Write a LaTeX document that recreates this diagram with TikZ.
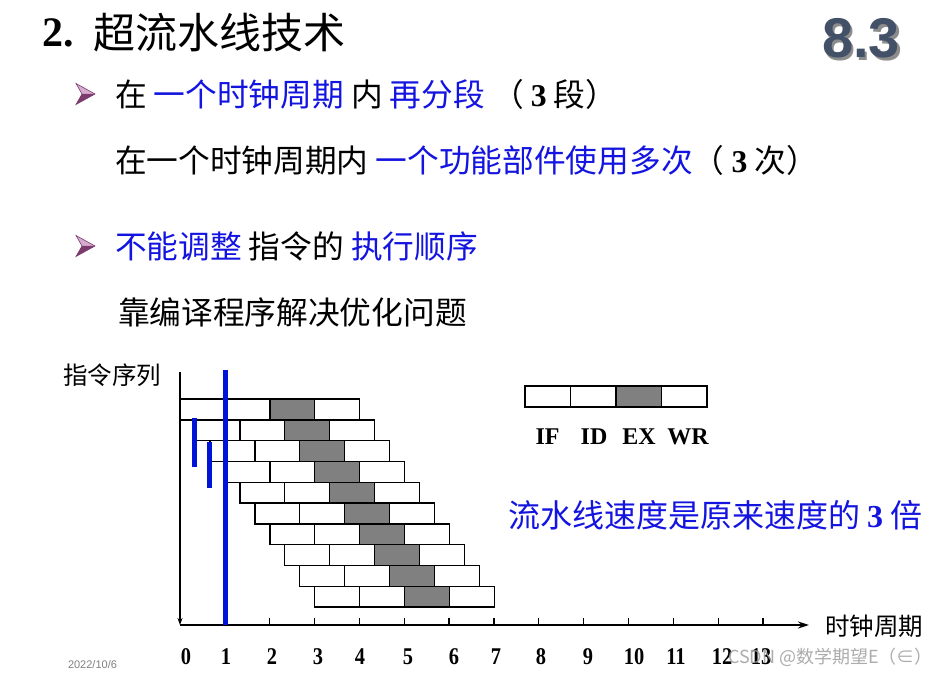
\documentclass[tikz,border=0pt]{standalone}
\usepackage{fontspec}
\usepackage{graphicx}
\usetikzlibrary{arrows.meta}
\setmainfont{Liberation Serif}
\newfontfamily\cjk{Noto Sans CJK SC}
\newfontfamily\lsans{Liberation Sans}
\definecolor{tblue}{RGB}{20,20,225}
\definecolor{boxgray}{RGB}{128,128,128}
\definecolor{bline}{RGB}{0,20,215}
\definecolor{numc}{RGB}{66,80,104}
\definecolor{mkLight}{RGB}{214,172,206}
\definecolor{mkDark}{RGB}{125,58,108}
\newcommand\fs[1]{\fontsize{#1}{#1}\selectfont}
\newcommand\bl[1]{\textcolor{tblue}{#1}}
\newcommand\tn[1]{{\rmfamily\bfseries #1}}
\tikzset{
  stagebox/.style={draw=black, line width=1.4pt, minimum width=44.9pt, minimum height=20.8pt, inner sep=0pt, outer sep=0pt, anchor=north west},
  legbox/.style={draw=black, line width=1.6pt, minimum width=45.5pt, minimum height=21pt, inner sep=0pt, outer sep=0pt, anchor=north west},
  txt/.style={inner sep=0pt, outer sep=0pt, anchor=west},
  blueline/.style={draw=bline, line width=5pt},
  axis/.style={draw=black, line width=1.5pt},
  tick/.style={draw=black, line width=1.3pt},
  marker/.style={line width=0.6pt, draw=mkDark}
}
\newcommand\bulletmark[2]{%
  \fill[mkLight] (#1,#2-10.5) -- (#1+19,#2) -- (#1+6,#2) -- cycle;
  \fill[mkDark] (#1,#2+10.5) -- (#1+19,#2) -- (#1+6,#2) -- cycle;
  \draw[marker] (#1,#2-10.5) -- (#1+19,#2) -- (#1,#2+10.5) -- (#1+6,#2) -- cycle;
}
\begin{document}
\begin{tikzpicture}[x=1pt,y=-1pt]
\useasboundingbox (0,0) rectangle (943,679);
\fill[white] (0,0) rectangle (943,679);

% title
\node[inner sep=0pt, anchor=base west] (t2) at (42,47) {\fs{42}\tn{2.}};
\node[txt] (title) at (93,33) {\fs{42}\cjk 超流水线技术};
% 8.3
\node[inner sep=0pt, anchor=base west, text=black!45] (secsh) at (824.5,60.5) {\fs{56}\lsans\bfseries 8.3};
\node[inner sep=0pt, anchor=base west, text=numc] (sec) at (822,58) {\fs{56}\lsans\bfseries 8.3};

% bullets
\bulletmark{76}{94}
\node[txt] (line1) at (115,94) {\fs{31.7}\cjk 在 \bl{一个时钟周期} 内 \bl{再分段} （ \tn{3} 段）};
\node[txt] (line2) at (115,160) {\fs{31.7}\cjk 在一个时钟周期内 \bl{一个功能部件使用多次}（ \tn{3} 次）};
\bulletmark{76}{246}
\node[txt] (line3) at (115,246) {\fs{31.7}\cjk \bl{不能调整} 指令的 \bl{执行顺序}};
\node[txt] (line4) at (118,312) {\fs{31.7}\cjk 靠编译程序解决优化问题};

% axes labels
\node[txt] (ylab) at (63,375) {\fs{24.5}\cjk 指令序列};
\node[txt] (xlab) at (825,626) {\fs{24.5}\cjk 时钟周期};

% pipeline blocks
\foreach \i in {0,...,9}{
  \foreach \j/\c in {0/white,1/white,2/boxgray,3/white}{
    \pgfmathsetmacro\xx{180+\i*14.967+\j*44.9}
    \pgfmathsetmacro\yy{399+\i*20.8}
    \node[stagebox, fill=\c] (b\i\j) at (\xx,\yy) {};
  }
}

% axes
\coordinate (O) at (180,625);
\coordinate (Ytop) at (180,372);
\coordinate (Xend) at (809,625);
\draw[axis, -{Stealth[length=7pt,width=5pt]}] (Ytop) -- (O);
\draw[axis, -{Stealth[length=11pt,width=7pt]}] (O) -- (Xend);
\foreach \k in {1,...,13}{
  \draw[tick] (180+\k*44.85,625) -- (180+\k*44.85,618);
}
\foreach \k/\xp in {0/186,1/226,2/272,3/318,4/360,5/408,6/454,7/496,8/541,9/588,10/634,11/676,12/722,13/761}{
  \node[inner sep=0pt] (n\k) at (\xp,657) {\fs{24}\scalebox{0.85}[1]{\tn{\k}}};
}

% blue lines
\draw[blueline] (225,370) -- (225,625);
\draw[blueline] (194.7,418) -- (194.7,467);
\draw[blueline] (209.5,442) -- (209.5,488);

% legend
\foreach \j/\c in {0/white,1/white,2/boxgray,3/white}{
  \node[legbox, fill=\c] (l\j) at (525+\j*45.5,386) {};
}
\node[inner sep=0pt] (lIF) at (547.5,437) {\fs{24}\tn{IF}};
\node[inner sep=0pt] (lID) at (594,437) {\fs{24}\tn{ID}};
\node[inner sep=0pt] (lEX) at (639,437) {\fs{24}\tn{EX}};
\node[inner sep=0pt] (lWR) at (688,437) {\fs{24}\tn{WR}};

% speed text
\node[txt, text=tblue] (speed) at (508,515) {\fs{32}\cjk 流水线速度是原来速度的 \tn{3} 倍};

% footer
\node[txt, text=black!50] (date) at (68,665) {\fs{11}\lsans 2022/10/6};
\node[txt, text=black!38, opacity=0.85] (wm) at (728,657) {\fs{18}\cjk CSDN @数学期望E（∈）};
\end{tikzpicture}
\end{document}
